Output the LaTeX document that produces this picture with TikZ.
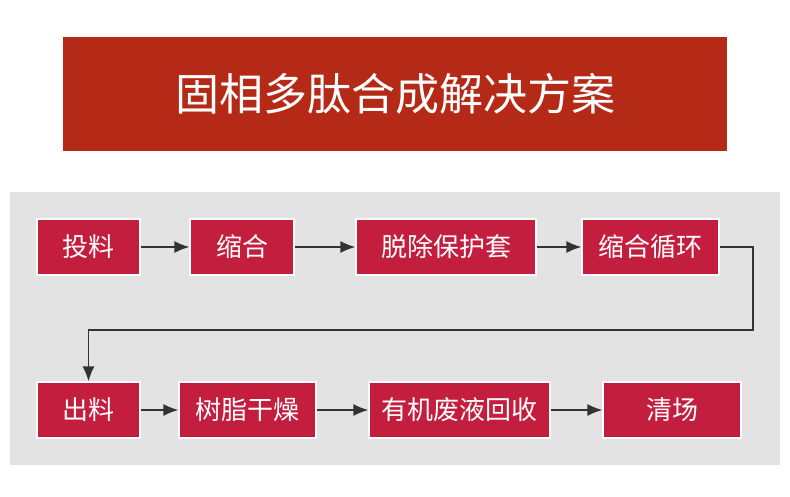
\documentclass[tikz,border=0pt]{standalone}
\usepackage{fontspec}
\setmainfont{Noto Sans CJK SC}
\usetikzlibrary{arrows.meta}
\definecolor{titlered}{HTML}{B52A16}
\definecolor{boxred}{HTML}{C41E3F}
\definecolor{panelgray}{HTML}{E3E3E3}
\definecolor{linegray}{HTML}{333333}
\begin{document}
\begin{tikzpicture}[x=1pt,y=-1pt,
  stepbox/.style={draw=white,line width=1.2pt,fill=boxred,text=white,inner sep=0pt,
    font=\fontsize{26}{26}\selectfont},
  flow/.style={draw=linegray,line width=1.6pt,-{Latex[length=15pt,width=12pt]}}]
\useasboundingbox (0,0) rectangle (790,496);
\fill[white] (0,0) rectangle (790,496);
\node[fill=titlered,text=white,minimum width=664pt,minimum height=114pt,inner sep=0pt,
  font=\fontsize{44}{44}\selectfont] (title) at (395,94) {固相多肽合成解决方案};
\fill[panelgray] (10,192) rectangle (780,465);
% row 1
\node[stepbox,minimum width=103pt,minimum height=56pt] (a1) at (88.5,247) {投料};
\node[stepbox,minimum width=104pt,minimum height=56pt] (a2) at (242,247) {缩合};
\node[stepbox,minimum width=180pt,minimum height=56pt] (a3) at (446,247) {脱除保护套};
\node[stepbox,minimum width=137pt,minimum height=56pt] (a4) at (650.5,247) {缩合循环};
% row 2
\node[stepbox,minimum width=103pt,minimum height=56pt] (b1) at (88.5,410) {出料};
\node[stepbox,minimum width=137pt,minimum height=56pt] (b2) at (247.5,410) {树脂干燥};
\node[stepbox,minimum width=181pt,minimum height=56pt] (b3) at (459.5,410) {有机废液回收};
\node[stepbox,minimum width=138pt,minimum height=56pt] (b4) at (672,410) {清场};
\coordinate (c1) at (753,247);
\coordinate (c2) at (753,330);
\coordinate (c3) at (88.5,330);
\draw[flow] (a1) -- (a2);
\draw[flow] (a2) -- (a3);
\draw[flow] (a3) -- (a4);
\draw[flow] (a4.east) -- (c1) -- (c2) -- (c3) -- (b1.north);
\draw[flow] (b1) -- (b2);
\draw[flow] (b2) -- (b3);
\draw[flow] (b3) -- (b4);
\end{tikzpicture}
\end{document}
